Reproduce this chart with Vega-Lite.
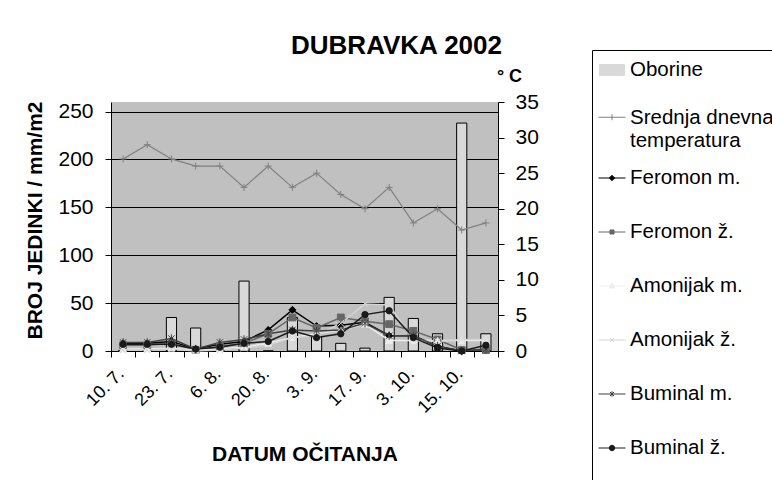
{
  "$schema": "https://vega.github.io/schema/vega-lite/v6.json",
  "width": 387,
  "height": 249,
  "autosize": {"type": "none"},
  "padding": {"left": 111, "top": 102, "right": 274, "bottom": 129},
  "background": "white",
  "title": {"text": "DUBRAVKA 2002", "font": "Liberation Sans", "fontSize": 26, "fontWeight": "bold", "color": "black", "anchor": "middle", "dx": 92, "offset": -9},
  "config": {
    "font": "Liberation Sans",
    "view": {"fill": "#c0c0c0", "stroke": null},
    "axis": {"labelFont": "Liberation Sans", "titleFont": "Liberation Sans", "labelColor": "black", "titleColor": "black", "domainColor": "black", "tickColor": "black", "labelFontSize": 21, "titleFontSize": 21, "titleFontWeight": "bold", "domainWidth": 1, "tickWidth": 1, "labelOverlap": false}
  },
  "data": {"values": [
    {"d":"10. 7.","s":"Oborine","v":0},{"d":"16. 7.","s":"Oborine","v":0},{"d":"23. 7.","s":"Oborine","v":35},{"d":"30. 7.","s":"Oborine","v":24},{"d":"6. 8.","s":"Oborine","v":0},{"d":"13. 8.","s":"Oborine","v":73},{"d":"20. 8.","s":"Oborine","v":0},{"d":"27. 8.","s":"Oborine","v":35},{"d":"3. 9.","s":"Oborine","v":15},{"d":"10. 9.","s":"Oborine","v":8},{"d":"17. 9.","s":"Oborine","v":3},{"d":"24. 9.","s":"Oborine","v":56},{"d":"3. 10.","s":"Oborine","v":34},{"d":"9. 10.","s":"Oborine","v":18},{"d":"15. 10.","s":"Oborine","v":238},{"d":"22. 10.","s":"Oborine","v":18},
    {"d":"10. 7.","s":"Srednja dnevna temperatura","v":27},{"d":"16. 7.","s":"Srednja dnevna temperatura","v":29},{"d":"23. 7.","s":"Srednja dnevna temperatura","v":27},{"d":"30. 7.","s":"Srednja dnevna temperatura","v":26},{"d":"6. 8.","s":"Srednja dnevna temperatura","v":26},{"d":"13. 8.","s":"Srednja dnevna temperatura","v":23},{"d":"20. 8.","s":"Srednja dnevna temperatura","v":26},{"d":"27. 8.","s":"Srednja dnevna temperatura","v":23},{"d":"3. 9.","s":"Srednja dnevna temperatura","v":25},{"d":"10. 9.","s":"Srednja dnevna temperatura","v":22},{"d":"17. 9.","s":"Srednja dnevna temperatura","v":20},{"d":"24. 9.","s":"Srednja dnevna temperatura","v":23},{"d":"3. 10.","s":"Srednja dnevna temperatura","v":18},{"d":"9. 10.","s":"Srednja dnevna temperatura","v":20},{"d":"15. 10.","s":"Srednja dnevna temperatura","v":17},{"d":"22. 10.","s":"Srednja dnevna temperatura","v":18},
    {"d":"10. 7.","s":"Feromon m.","v":8},{"d":"16. 7.","s":"Feromon m.","v":8},{"d":"23. 7.","s":"Feromon m.","v":10},{"d":"30. 7.","s":"Feromon m.","v":2},{"d":"6. 8.","s":"Feromon m.","v":7},{"d":"13. 8.","s":"Feromon m.","v":10},{"d":"20. 8.","s":"Feromon m.","v":22},{"d":"27. 8.","s":"Feromon m.","v":43},{"d":"3. 9.","s":"Feromon m.","v":26},{"d":"10. 9.","s":"Feromon m.","v":27},{"d":"17. 9.","s":"Feromon m.","v":30},{"d":"24. 9.","s":"Feromon m.","v":16},{"d":"3. 10.","s":"Feromon m.","v":16},{"d":"9. 10.","s":"Feromon m.","v":5},{"d":"15. 10.","s":"Feromon m.","v":0},{"d":"22. 10.","s":"Feromon m.","v":1},
    {"d":"10. 7.","s":"Feromon ž.","v":6},{"d":"16. 7.","s":"Feromon ž.","v":6},{"d":"23. 7.","s":"Feromon ž.","v":8},{"d":"30. 7.","s":"Feromon ž.","v":1},{"d":"6. 8.","s":"Feromon ž.","v":5},{"d":"13. 8.","s":"Feromon ž.","v":8},{"d":"20. 8.","s":"Feromon ž.","v":18},{"d":"27. 8.","s":"Feromon ž.","v":35},{"d":"3. 9.","s":"Feromon ž.","v":24},{"d":"10. 9.","s":"Feromon ž.","v":35},{"d":"17. 9.","s":"Feromon ž.","v":31},{"d":"24. 9.","s":"Feromon ž.","v":28},{"d":"3. 10.","s":"Feromon ž.","v":21},{"d":"9. 10.","s":"Feromon ž.","v":12},{"d":"15. 10.","s":"Feromon ž.","v":1},{"d":"22. 10.","s":"Feromon ž.","v":1},
    {"d":"10. 7.","s":"Amonijak m.","v":2},{"d":"16. 7.","s":"Amonijak m.","v":2},{"d":"23. 7.","s":"Amonijak m.","v":3},{"d":"30. 7.","s":"Amonijak m.","v":1},{"d":"6. 8.","s":"Amonijak m.","v":2},{"d":"13. 8.","s":"Amonijak m.","v":4},{"d":"20. 8.","s":"Amonijak m.","v":8},{"d":"27. 8.","s":"Amonijak m.","v":14},{"d":"3. 9.","s":"Amonijak m.","v":18},{"d":"10. 9.","s":"Amonijak m.","v":22},{"d":"17. 9.","s":"Amonijak m.","v":28},{"d":"24. 9.","s":"Amonijak m.","v":11},{"d":"3. 10.","s":"Amonijak m.","v":11},{"d":"9. 10.","s":"Amonijak m.","v":11},{"d":"15. 10.","s":"Amonijak m.","v":11},{"d":"22. 10.","s":"Amonijak m.","v":11},
    {"d":"10. 7.","s":"Amonijak ž.","v":1},{"d":"16. 7.","s":"Amonijak ž.","v":1},{"d":"23. 7.","s":"Amonijak ž.","v":2},{"d":"30. 7.","s":"Amonijak ž.","v":0},{"d":"6. 8.","s":"Amonijak ž.","v":1},{"d":"13. 8.","s":"Amonijak ž.","v":3},{"d":"20. 8.","s":"Amonijak ž.","v":6},{"d":"27. 8.","s":"Amonijak ž.","v":14},{"d":"3. 9.","s":"Amonijak ž.","v":16},{"d":"10. 9.","s":"Amonijak ž.","v":29},{"d":"17. 9.","s":"Amonijak ž.","v":49},{"d":"24. 9.","s":"Amonijak ž.","v":48},{"d":"3. 10.","s":"Amonijak ž.","v":11},{"d":"9. 10.","s":"Amonijak ž.","v":10},{"d":"15. 10.","s":"Amonijak ž.","v":12},{"d":"22. 10.","s":"Amonijak ž.","v":12},
    {"d":"10. 7.","s":"Buminal m.","v":9},{"d":"16. 7.","s":"Buminal m.","v":9},{"d":"23. 7.","s":"Buminal m.","v":13},{"d":"30. 7.","s":"Buminal m.","v":2},{"d":"6. 8.","s":"Buminal m.","v":9},{"d":"13. 8.","s":"Buminal m.","v":12},{"d":"20. 8.","s":"Buminal m.","v":18},{"d":"27. 8.","s":"Buminal m.","v":22},{"d":"3. 9.","s":"Buminal m.","v":21},{"d":"10. 9.","s":"Buminal m.","v":22},{"d":"17. 9.","s":"Buminal m.","v":29},{"d":"24. 9.","s":"Buminal m.","v":16},{"d":"3. 10.","s":"Buminal m.","v":16},{"d":"9. 10.","s":"Buminal m.","v":5},{"d":"15. 10.","s":"Buminal m.","v":0},{"d":"22. 10.","s":"Buminal m.","v":2},
    {"d":"10. 7.","s":"Buminal ž.","v":7},{"d":"16. 7.","s":"Buminal ž.","v":7},{"d":"23. 7.","s":"Buminal ž.","v":7},{"d":"30. 7.","s":"Buminal ž.","v":2},{"d":"6. 8.","s":"Buminal ž.","v":4},{"d":"13. 8.","s":"Buminal ž.","v":8},{"d":"20. 8.","s":"Buminal ž.","v":10},{"d":"27. 8.","s":"Buminal ž.","v":21},{"d":"3. 9.","s":"Buminal ž.","v":14},{"d":"10. 9.","s":"Buminal ž.","v":18},{"d":"17. 9.","s":"Buminal ž.","v":38},{"d":"24. 9.","s":"Buminal ž.","v":42},{"d":"3. 10.","s":"Buminal ž.","v":14},{"d":"9. 10.","s":"Buminal ž.","v":3},{"d":"15. 10.","s":"Buminal ž.","v":0},{"d":"22. 10.","s":"Buminal ž.","v":6}
  ]},
  "encoding": {
    "x": {
      "field": "d", "type": "ordinal",
      "sort": ["10. 7.","16. 7.","23. 7.","30. 7.","6. 8.","13. 8.","20. 8.","27. 8.","3. 9.","10. 9.","17. 9.","24. 9.","3. 10.","9. 10.","15. 10.","22. 10."],
      "scale": {"type": "band", "paddingInner": 0, "paddingOuter": 0},
      "axis": {
        "title": "DATUM OČITANJA", "titleY": 92, "titleBaseline": "top", "titleAnchor": "middle",
        "labelAngle": -45, "labelAlign": "right", "labelBaseline": "middle", "labelPadding": 14, "labelOffset": -2, "labelFontSize": 18,
        "labelExpr": "indexof(['10. 7.','23. 7.','6. 8.','20. 8.','3. 9.','17. 9.','3. 10.','15. 10.'], datum.value) >= 0 ? datum.value : ''",
        "tickBand": "extent", "tickSize": 6, "grid": false
      }
    }
  },
  "layer": [
    {
      "layer": [
        {
          "transform": [{"filter": "datum.s == 'Oborine'"}],
          "mark": {"type": "bar", "stroke": "black", "strokeWidth": 1, "width": {"band": 0.42}},
          "encoding": {
            "y": {"field": "v", "type": "quantitative", "scale": {"domain": [0, 250]},
              "axis": {"orient": "left", "values": [0, 50, 100, 150, 200, 250], "grid": true, "gridColor": "black", "gridOpacity": 1, "gridWidth": 1, "tickSize": 6, "labelPadding": 12,
                "title": "BROJ JEDINKI / mm/m2", "titleAngle": -90, "titleX": -76, "titleY": 118, "titleAlign": "center", "titleBaseline": "middle"}},
            "color": {
              "field": "s", "type": "nominal",
              "scale": {
                "domain": ["Oborine", "Srednja dnevna temperatura", "Feromon m.", "Feromon ž.", "Amonijak m.", "Amonijak ž.", "Buminal m.", "Buminal ž."],
                "range": ["#d9d9d9", "#808080", "#000000", "#666666", "#eeeeee", "#d4d4d4", "#404040", "#1a1a1a"]
              },
              "legend": {
                "orient": "none", "legendX": 481, "legendY": -52, "title": null,
                "labelFont": "Liberation Sans", "labelFontSize": 20.5, "labelColor": "black", "labelLimit": 400, "labelOffset": 4,
                "labelExpr": "datum.label == 'Srednja dnevna temperatura' ? ['Srednja dnevna', 'temperatura'] : datum.label",
                "labelBaseline": {"expr": "datum.value == 'Srednja dnevna temperatura' ? 'alphabetic' : 'middle'"},
                "symbolSize": 729, "padding": 6, "rowPadding": 1, "symbolStrokeWidth": 1,
                "symbolType": {"expr": "['M-0.93,-0.41H0.93V0.41H-0.93ZM0,-1.4M0,2.2','M-1,-0.5H1M0,-0.72V-0.28M0,-1.4M0,2.2','M-1,0H1M0,-0.2L0.2,0L0,0.2L-0.2,0ZM0,-1.4M0,2.2','M-1,0H1M-0.15,-0.15H0.15V0.15H-0.15ZM0,-1.4M0,2.2','M-1,0H1M0,-0.2L0.2,0.15H-0.2ZM0,-1.4M0,2.2','M-1,0H1M-0.15,-0.15L0.15,0.15M-0.15,0.15L0.15,-0.15M0,-1.4M0,2.2','M-1,0H1M-0.15,-0.15L0.15,0.15M-0.15,0.15L0.15,-0.15M0,-0.2V0.2M0,-1.4M0,2.2','M-1,0H1M-0.2,0A0.2,0.2 0 1,0 0.2,0A0.2,0.2 0 1,0 -0.2,0ZM0,-1.4M0,2.2'][indexof(['Oborine','Srednja dnevna temperatura','Feromon m.','Feromon ž.','Amonijak m.','Amonijak ž.','Buminal m.','Buminal ž.'], datum.value)]"},
                "symbolStrokeColor": {"expr": "datum.value == 'Oborine' ? '#000000' : scale('color', datum.value)"},
                "strokeColor": "black", "fillColor": "white"
              }
            }
          }
        },
        {
          "transform": [{"filter": "datum.s != 'Oborine' && datum.s != 'Srednja dnevna temperatura'"}],
          "mark": {"type": "line", "strokeWidth": 1.5},
          "encoding": {
            "y": {"field": "v", "type": "quantitative"},
            "color": {"field": "s", "type": "nominal", "legend": null}
          }
        },
        {
          "transform": [{"filter": "datum.s != 'Oborine' && datum.s != 'Srednja dnevna temperatura'"}],
          "mark": {"type": "point", "filled": true, "opacity": 1, "strokeWidth": 1},
          "encoding": {
            "y": {"field": "v", "type": "quantitative"},
            "color": {"field": "s", "type": "nominal", "legend": null},
            "stroke": {"field": "s", "type": "nominal", "legend": null,
              "scale": {"domain": ["Srednja dnevna temperatura", "Feromon m.", "Feromon ž.", "Amonijak m.", "Amonijak ž.", "Buminal m.", "Buminal ž."],
                "range": ["#808080", "#000000", "#666666", "#eeeeee", "#d4d4d4", "#404040", "#1a1a1a"]}},
            "shape": {"field": "s", "type": "nominal", "legend": null,
              "scale": {"domain": ["Srednja dnevna temperatura", "Feromon m.", "Feromon ž.", "Amonijak m.", "Amonijak ž.", "Buminal m.", "Buminal ž."],
                "range": ["M-1,0H1M0,-1V1", "diamond", "square", "triangle-up", "M-1,-1L1,1M-1,1L1,-1", "M-1,-1L1,1M-1,1L1,-1M0,-1.3V1.3", "circle"]}},
            "size": {"field": "s", "type": "nominal", "legend": null,
              "scale": {"domain": ["Srednja dnevna temperatura", "Feromon m.", "Feromon ž.", "Amonijak m.", "Amonijak ž.", "Buminal m.", "Buminal ž."],
                "range": [50, 40, 30, 40, 30, 36, 60]}}
          }
        }
      ]
    },
    {
      "transform": [{"filter": "datum.s == 'Srednja dnevna temperatura'"}],
      "layer": [
        {
          "mark": {"type": "line", "strokeWidth": 1.2},
          "encoding": {
            "y": {"field": "v", "type": "quantitative", "scale": {"domain": [0, 35], "nice": false},
              "axis": {"orient": "right", "values": [0, 5, 10, 15, 20, 25, 30, 35], "tickCount": 8, "grid": false, "tickSize": 6, "labelPadding": 11, "labelOverlap": false, "labelBound": false,
                "title": "° C", "titleAngle": 0, "titleX": 11, "titleY": -21, "titleAlign": "center", "titleBaseline": "alphabetic", "titleFontSize": 18}},
            "color": {"field": "s", "type": "nominal", "legend": null}
          }
        },
        {
          "mark": {"type": "point", "filled": true, "opacity": 1, "strokeWidth": 1},
          "encoding": {
            "y": {"field": "v", "type": "quantitative"},
            "color": {"field": "s", "type": "nominal", "legend": null},
            "stroke": {"field": "s", "type": "nominal", "legend": null},
            "shape": {"field": "s", "type": "nominal", "legend": null},
            "size": {"field": "s", "type": "nominal", "legend": null}
          }
        }
      ]
    }
  ],
  "resolve": {"scale": {"y": "independent"}}
}
